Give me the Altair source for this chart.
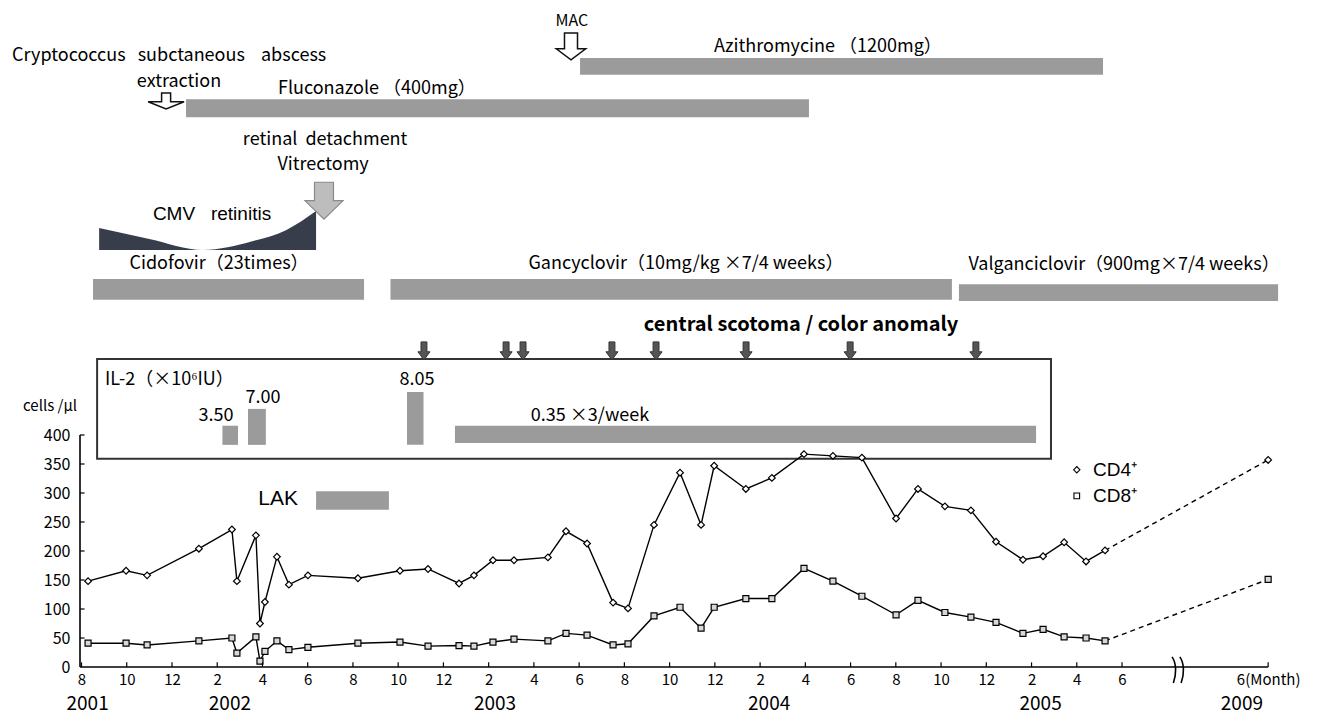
import altair as alt
import pandas as pd

# ---------------- values ----------------
# time axis: months counted from August 2001 (= 0); June 2009 is drawn after an axis break
visit_month = [0.29, 1.97, 2.9, 5.19, 6.65, 6.87, 7.71, 7.89, 8.11, 8.64,
               9.17, 10.01, 12.22, 14.08, 15.32, 16.69, 17.35, 18.19, 19.12, 20.62,
               21.42, 22.35, 23.5, 24.16, 25.31, 26.46, 27.39, 27.97, 29.37, 30.52,
               31.94, 33.22, 34.5, 36.01, 36.98, 38.17, 39.32, 40.43, 41.62, 42.51,
               43.44, 44.41, 45.25]
cd4_count = [148, 166, 158, 204, 237, 148, 227, 75, 112, 190,
             142, 158, 153, 166, 169, 144, 158, 184, 184, 189,
             234, 213, 111, 101, 245, 335, 245, 347, 307, 326,
             367, 364, 361, 256, 307, 277, 270, 216, 185, 191,
             215, 182, 201]
cd8_count = [41, 41, 38, 45, 50, 24, 52, 10, 27, 45,
             30, 34, 41, 43, 36, 37, 36, 43, 48, 45,
             58, 55, 38, 40, 88, 103, 67, 103, 118, 118,
             170, 148, 122, 90, 115, 94, 86, 77, 58, 65,
             52, 50, 45]
followup_month = 52.46          # June 2009
cd4_followup = 357
cd8_followup = 151

tick_months = list(range(0, 47, 2)) + [followup_month]
y_ticks = [0, 50, 100, 150, 200, 250, 300, 350, 400]
year_names = ["2001", "2002", "2003", "2004", "2005", "2009"]
year_month = [0.27, 6.56, 18.28, 30.4, 42.4, 51.3]

therapy_names = ["Azithromycine", "Fluconazole", "Cidofovir", "Gancyclovir", "Valganciclovir", "LAK"]
therapy_start = [22.04, 4.62, 0.51, 13.66, 38.79, 10.37]
therapy_end = [45.16, 32.16, 12.49, 38.48, 52.9, 13.59]

il2_dose = ["3.50", "7.00", "8.05", "0.35 ×3/week"]
il2_start = [6.23, 7.36, 14.39, 16.51]
il2_end = [6.92, 8.15, 15.12, 42.2]

scotoma_month = [15.14, 18.77, 19.52, 23.45, 25.4, 29.38, 33.98, 39.54]

cmv_month = [0.78, 3.0, 5.37, 7.55, 9.04, 10.37]

# ---------------- layout ----------------
FONT = "Noto Sans CJK JP"
FONT2 = "Liberation Sans"
PXM = 22.62     # px per month
PXV = 0.58      # px per cell/ul
W, H = 1220, 659
X0 = (80 - 81.5) / PXM
X1 = X0 + W / PXM
YTOP = H / PXV
GRAY = "#9b9b9b"

xs = alt.Scale(domain=[X0, X1], nice=False, zero=False)
ys = alt.Scale(domain=[0, YTOP], nice=False, zero=False)

xaxis = alt.Axis(values=tick_months, domain=False, ticks=False, grid=False,
                 labelExpr="datum.value > 50 ? '6(Month)' : '' + ((round(datum.value) + 7) % 12 + 1)",
                 labelFont=FONT, labelFontSize=15, labelColor="black", labelPadding=5,
                 labelFlush=False, labelOverlap=False, title=None)
yaxis = alt.Axis(values=y_ticks, domain=False, ticks=False, grid=False,
                 labelFont=FONT, labelFontSize=16, labelColor="black", labelPadding=10,
                 labelFlush=False, labelOverlap=False, title=None)


def X(field):
    return alt.X(field, type="quantitative", scale=xs, axis=xaxis)


def Y(field):
    return alt.Y(field, type="quantitative", scale=ys, axis=yaxis)


# rows of the annotation area (in y units)
therapy_top = [1050, 979, 669, 669, 660, 303]
therapy_bot = [1021, 948, 633, 633, 631, 271]
il2_top = [416, 445, 474, 416]
il2_bot = [383, 383, 383, 386]

bars = pd.DataFrame({
    "s": therapy_start + il2_start,
    "e": therapy_end + il2_end,
    "t": therapy_top + il2_top,
    "b": therapy_bot + il2_bot,
})
bar_layer = alt.Chart(bars).mark_rect(color=GRAY).encode(
    x=X("s"), x2="e", y=Y("t"), y2="b")

box = pd.DataFrame({"s": [0.69], "e": [42.86], "t": [531], "b": [359]})
box_layer = alt.Chart(box).mark_rect(fillOpacity=0, stroke="#333", strokeWidth=2).encode(
    x=X("s"), x2="e", y=Y("t"), y2="b")

cmv = pd.DataFrame({"m": cmv_month, "t": [757, 738, 719, 734, 753, 786], "b": [719] * 6})
cmv_layer = alt.Chart(cmv).mark_area(color="#383d4c", interpolate="monotone").encode(
    x=X("m"), y=Y("t"), y2="b")

# arrows
down_dark = "M-0.33,-1 L0.33,-1 L0.33,0.1 L0.67,0.1 L0,1 L-0.67,0.1 L-0.33,0.1 Z"
down_mac = "M-0.42,-0.87 L0.42,-0.87 L0.42,0.15 L0.95,0.15 L0,0.87 L-0.95,0.15 L-0.42,0.15 Z"
down_ext = "M-0.25,-0.44 L0.25,-0.44 L0.25,0.05 L1,0.05 L0,0.44 L-1,0.05 L-0.25,0.05 Z"
down_vit = "M-0.5,-0.97 L0.5,-0.97 L0.5,0 L1,0 L0,0.97 L-1,0 L-0.5,0 Z"


def arrows(months, vals, path, size, fill, stroke, sw):
    df = pd.DataFrame({"m": months, "v": vals})
    return alt.Chart(df).mark_point(shape=path, size=size, filled=True, fill=fill, stroke=stroke,
                                    strokeWidth=sw, opacity=1, fillOpacity=1).encode(x=X("m"), y=Y("v"))


arrow_layers = [
    arrows(scotoma_month, [545] * len(scotoma_month), down_dark, 324, "#555", "#333", 1),
    arrows([21.64], [1070], down_mac, 961, "white", "#111", 1.5),
    arrows([3.74], [976], down_ext, 1296, "white", "#111", 1.5),
    arrows([10.72], [804], down_vit, 1444, "#bdbdbd", "#8a8a8a", 1.2),
]

# cell counts
cd = pd.DataFrame({
    "m": visit_month * 2,
    "v": cd4_count + cd8_count,
    "s": ["CD4"] * len(cd4_count) + ["CD8"] * len(cd8_count),
})
line_layer = alt.Chart(cd).mark_line(color="black", strokeWidth=1.4).encode(
    x=X("m"), y=Y("v"), detail="s:N")

dash = pd.DataFrame({
    "m": [visit_month[-1], followup_month, visit_month[-1], followup_month],
    "v": [cd4_count[-1], cd4_followup, cd8_count[-1], cd8_followup],
    "s": ["CD4", "CD4", "CD8", "CD8"],
})
dash_layer = alt.Chart(dash).mark_line(color="black", strokeWidth=1.4, strokeDash=[5, 4]).encode(
    x=X("m"), y=Y("v"), detail="s:N")

cd4_pts = pd.DataFrame({"m": visit_month + [followup_month], "v": cd4_count + [cd4_followup]})
cd8_pts = pd.DataFrame({"m": visit_month + [followup_month], "v": cd8_count + [cd8_followup]})
pt4 = alt.Chart(cd4_pts).mark_point(shape="diamond", size=45, filled=True, fill="white",
                                    stroke="black", strokeWidth=1.2, opacity=1).encode(x=X("m"), y=Y("v"))
pt8 = alt.Chart(cd8_pts).mark_point(shape="square", size=36, filled=True, fill="#d8d8d8",
                                    stroke="black", strokeWidth=1.2, opacity=1).encode(x=X("m"), y=Y("v"))

leg4 = alt.Chart(pd.DataFrame({"m": [44.0], "v": [340]})).mark_point(
    shape="diamond", size=40, filled=True, fill="white", stroke="black", strokeWidth=1.1, opacity=1
).encode(x=X("m"), y=Y("v"))
leg8 = alt.Chart(pd.DataFrame({"m": [44.0], "v": [295]})).mark_point(
    shape="square", size=32, filled=True, fill="white", stroke="black", strokeWidth=1.1, opacity=1
).encode(x=X("m"), y=Y("v"))
leg_text = alt.Chart(pd.DataFrame({"t": ["CD4⁺", "CD8⁺"], "m": [44.72, 44.72], "v": [340, 295]})).mark_text(
    font=FONT2, fontSize=19, align="left", baseline="middle", color="black"
).encode(x=X("m"), y=Y("v"), text="t:N")

# annotation texts
NB = "\u00a0"
center_texts = pd.DataFrame([
    ("MAC", 21.68, 1113, 16),
    ("Azithromycine （1200mg）", 33.0, 1069, 18),
    ("extraction", 4.31, 1009, 18),
    ("Fluconazole （400mg）", 13.06, 997, 18),
    (f"retinal{NB}{NB}detachment", 10.77, 909, 18),
    ("Vitrectomy", 10.68, 866, 18),
    ("Cidofovir（23times）", 6.08, 695, 18),
    ("Gancyclovir（10mg/kg ×7/4 weeks）", 26.72, 695, 18),
    ("Valganciclovir（900mg×7/4 weeks）", 46.09, 693, 18),
    (il2_dose[0], 5.95, 433, 18),
    (il2_dose[1], 8.02, 464, 18),
    (il2_dose[2], 14.83, 495, 18),
    (il2_dose[3], 22.48, 433, 18),
    ("cells /μl", -1.39, 450, 15),
], columns=["t", "m", "v", "fs"])
bold_texts = pd.DataFrame([
    ("central scotoma / color anomaly", 31.81, 590, 20),
], columns=["t", "m", "v", "fs"])
left_texts = pd.DataFrame([
    (f"Cryptococcus{NB}{NB}{NB}subctaneous{NB}{NB}{NB}{NB}abscess", -3.07, 1053, 18),
    ("IL-2（×10⁶IU）", 1.04, 495, 18),
], columns=["t", "m", "v", "fs"])
sans_texts = pd.DataFrame([
    (f"CMV{NB}{NB}{NB}retinitis", 5.77, 781, 19),
    ("LAK", 8.69, 290, 21),
], columns=["t", "m", "v", "fs"])


def text_layer(df, font, align, weight="normal"):
    return alt.Chart(df).mark_text(font=font, align=align, baseline="middle", color="black",
                                   fontWeight=weight).encode(
        x=X("m"), y=Y("v"), text="t:N", size=alt.Size("fs:Q", scale=None, legend=None))


years = pd.DataFrame({"t": year_names, "m": year_month, "v": [-64] * len(year_names), "fs": [19] * 6})

# axis lines, inward ticks and the break mark
axis_lines = pd.DataFrame({"m": [X0, X0], "m2": [followup_month, X0], "v": [0, 0], "v2": [0, 400]})
axis_layer = alt.Chart(axis_lines).mark_rule(color="black", strokeWidth=1.6).encode(
    x=X("m"), x2="m2", y=Y("v"), y2="v2")
xt = pd.DataFrame({"m": tick_months, "v": [0] * len(tick_months), "v2": [8] * len(tick_months)})
xtick_layer = alt.Chart(xt).mark_rule(color="black", strokeWidth=1.2).encode(x=X("m"), y=Y("v"), y2="v2")
yt = pd.DataFrame({"m": [X0] * 8, "m2": [X0 + 0.2] * 8, "v": y_ticks[1:]})
ytick_layer = alt.Chart(yt).mark_rule(color="black", strokeWidth=1.2).encode(x=X("m"), x2="m2", y=Y("v"))
brk_path = "M-0.45,-1 C-0.1,-0.5 -0.1,0.3 -0.35,1 M0.15,-1 C0.5,-0.5 0.5,0.3 0.25,1"
brk_layer = alt.Chart(pd.DataFrame({"m": [48.47], "v": [-5]})).mark_point(
    shape=brk_path, size=676, filled=False, stroke="black", strokeWidth=1.6, opacity=1
).encode(x=X("m"), y=Y("v"))

chart = alt.layer(
    bar_layer, box_layer, cmv_layer, *arrow_layers,
    line_layer, dash_layer, pt4, pt8, leg4, leg8, leg_text,
    text_layer(center_texts, FONT, "center"),
    text_layer(bold_texts, FONT, "center", "bold"),
    text_layer(left_texts, FONT, "left"),
    text_layer(sans_texts, FONT2, "center"),
    text_layer(years, FONT, "center"),
    axis_layer, xtick_layer, ytick_layer, brk_layer,
).properties(
    width=W, height=H,
    padding={"left": 72, "top": 0, "right": 10, "bottom": 48},
    autosize=alt.AutoSizeParams(type="none"),
    background="white",
).configure_view(stroke=None)

chart.save("out.html", embed_options={"renderer": "svg", "actions": False})
